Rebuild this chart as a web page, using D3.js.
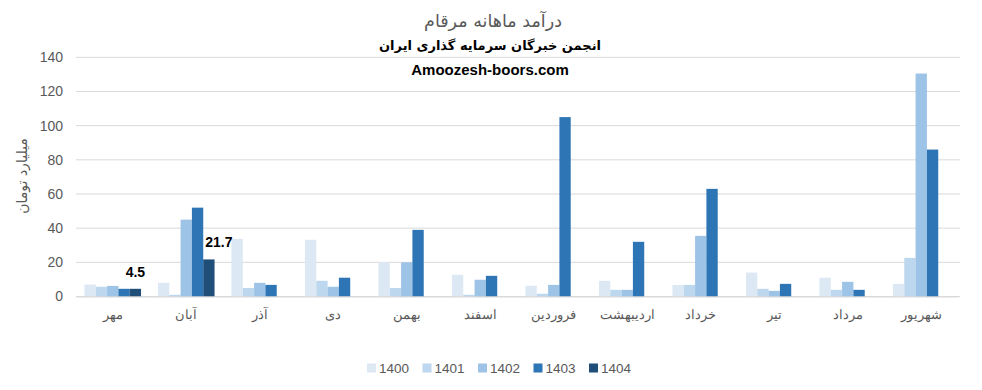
<!DOCTYPE html>
<html>
<head>
<meta charset="utf-8">
<script src="https://cdn.jsdelivr.net/npm/d3@7"></script>
<style>
  body { margin:0; background:#fff; }
  text { font-family: "Liberation Sans", Arial, sans-serif; }
  .fa { font-family: "DejaVu Sans", sans-serif; }
</style>
</head>
<body>
<div id="chart"></div>
<script>
const months = ["مهر","آبان","آذر","دی","بهمن","اسفند","فروردین","اردیبهشت","خرداد","تیر","مرداد","شهریور"];
const years = ["1400","1401","1402","1403","1404"];
const v1400 = [7, 8, 33.7, 33.2, 20, 12.7, 6.3, 9.2, 6.8, 14, 11, 7.4];
const v1401 = [5.7, 1, 5, 9.2, 5, 1, 1.6, 3.9, 6.8, 4.5, 3.9, 22.6];
const v1402 = [6.2, 45, 8, 5.7, 20, 9.8, 6.8, 3.9, 35.5, 3.3, 8.6, 130.5];
const v1403 = [4.5, 52, 6.8, 11, 39, 12.1, 105, 32, 63, 7.4, 3.9, 86];
const v1404 = [4.5, 21.7, null, null, null, null, null, null, null, null, null, null];
const yTicks = [0, 20, 40, 60, 80, 100, 120, 140];
const colors = ["#dde8f5", "#bdd7ee", "#9dc3e6", "#2e75b6", "#1f4e79"];

const series = [v1400, v1401, v1402, v1403, v1404];
const W = 982, H = 390;
const svg = d3.select("#chart").append("svg").attr("width", W).attr("height", H);

const x0 = d3.scaleBand().domain(months).range([76, 958]);
const pad = x0.bandwidth() * 0.115;
const x1 = d3.scaleBand().domain(years).range([pad, x0.bandwidth() - pad]);
const y = d3.scaleLinear().domain([0, 140]).range([296.5, 57.3]);

// gridlines
svg.append("g").selectAll("line").data(yTicks).enter().append("line")
  .attr("x1", 76).attr("x2", 960)
  .attr("y1", d => y(d)).attr("y2", d => y(d))
  .attr("stroke", "#d9d9d9").attr("stroke-width", 1);

// y axis labels
const yAxis = svg.append("g").attr("transform", "translate(70,0)")
  .call(d3.axisLeft(y).tickValues(yTicks).tickSize(0).tickPadding(7));
yAxis.select(".domain").remove();
yAxis.selectAll("text").attr("fill", "#595959").attr("font-size", 14)
  .attr("font-family", "Liberation Sans, Arial, sans-serif");

// bars
const rows = months.map((m, i) => ({ m, vals: years.map((yr, j) => ({ yr, j, v: series[j][i] })) }));
const grp = svg.append("g").selectAll("g").data(rows).enter().append("g")
  .attr("transform", d => `translate(${x0(d.m)},0)`);
grp.selectAll("rect").data(d => d.vals.filter(e => e.v != null)).enter().append("rect")
  .attr("x", d => x1(d.yr)).attr("width", x1.bandwidth())
  .attr("y", d => y(d.v)).attr("height", d => y(0) - y(d.v))
  .attr("fill", d => colors[d.j]);

// data labels for 1404
const labelDx = { "مهر": 0, "آبان": 10 };
svg.append("g").selectAll("text").data(months.filter((m, i) => v1404[i] != null)).enter().append("text")
  .attr("x", m => x0(m) + x1("1404") + x1.bandwidth() / 2 + labelDx[m])
  .attr("y", m => y(v1404[months.indexOf(m)]) - 12)
  .attr("text-anchor", "middle").attr("font-weight", "bold").attr("font-size", 14).attr("fill", "#000")
  .text(m => v1404[months.indexOf(m)]);

// x axis labels
const xAxis = svg.append("g").attr("transform", "translate(0,296.5)")
  .call(d3.axisBottom(x0).tickSize(0).tickPadding(13));
xAxis.select(".domain").attr("stroke", "#d9d9d9");
xAxis.selectAll("text").attr("fill", "#595959").attr("font-size", 13)
  .attr("font-family", "DejaVu Sans, sans-serif");

// titles
svg.append("text").attr("class", "fa").attr("x", 493).attr("y", 27).attr("text-anchor", "middle")
  .attr("font-size", 17.5).attr("fill", "#595959").text("درآمد ماهانه مرقام");
svg.append("text").attr("class", "fa").attr("x", 490).attr("y", 50).attr("text-anchor", "middle")
  .attr("font-size", 13).attr("font-weight", "bold").attr("fill", "#000").text("انجمن خبرگان سرمایه گذاری ایران");
svg.append("text").attr("x", 490).attr("y", 75).attr("text-anchor", "middle")
  .attr("font-size", 15).attr("font-weight", "bold").attr("fill", "#000").text("Amoozesh-boors.com");

// y axis title
svg.append("text").attr("class", "fa").attr("transform", "translate(27,176) rotate(-90)")
  .attr("text-anchor", "middle").attr("font-size", 14).attr("fill", "#595959").text("میلیارد تومان");

// legend
const lx = d3.scalePoint().domain(years).range([367, 589]);
const leg = svg.append("g").selectAll("g").data(years).enter().append("g")
  .attr("transform", d => `translate(${lx(d)},368)`);
leg.append("rect").attr("x", 0).attr("y", -4.5).attr("width", 9).attr("height", 9)
  .attr("fill", (d, i) => colors[i]);
leg.append("text").attr("x", 12).attr("y", 5).attr("font-size", 13.5).attr("fill", "#595959").text(d => d);
</script>
</body>
</html>
